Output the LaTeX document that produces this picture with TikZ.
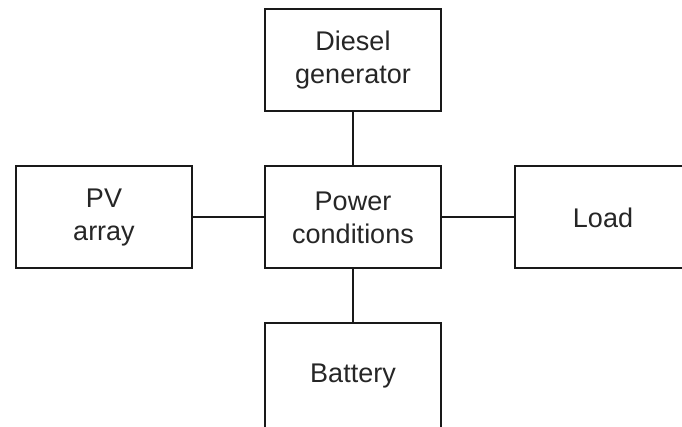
\documentclass[tikz,border=0pt]{standalone}
\usepackage{fontspec}
\setmainfont{Liberation Sans}
\begin{document}
\begin{tikzpicture}[x=1pt,y=-1pt,
  blk/.style={draw=black!90, line width=2pt, fill=white, minimum width=176pt, minimum height=102pt,
    inner sep=0pt, align=center, font=\fontsize{27}{33}\selectfont, text=black!85},
  link/.style={draw=black!90, line width=2pt}]
\useasboundingbox (0,0) rectangle (682,427);
\clip (0,0) rectangle (682,427);
\fill[white] (0,0) rectangle (682,427);
\node[blk] (dg) at (353,60) {Diesel\\generator};
\node[blk] (pv) at (104,217.5) {PV\\array};
\node[blk] (pc) at (353,217.5) {Power\\conditions};
\node[blk] (ld) at (603,217.5) {Load};
\node[blk, minimum height=106pt] (bt) at (353,376) {Battery};
\draw[link] (dg.south) -- (pc.north);
\draw[link] (pv.east) -- (pc.west);
\draw[link] (pc.east) -- (ld.west);
\draw[link] (pc.south) -- (bt.north);
\end{tikzpicture}
\end{document}
